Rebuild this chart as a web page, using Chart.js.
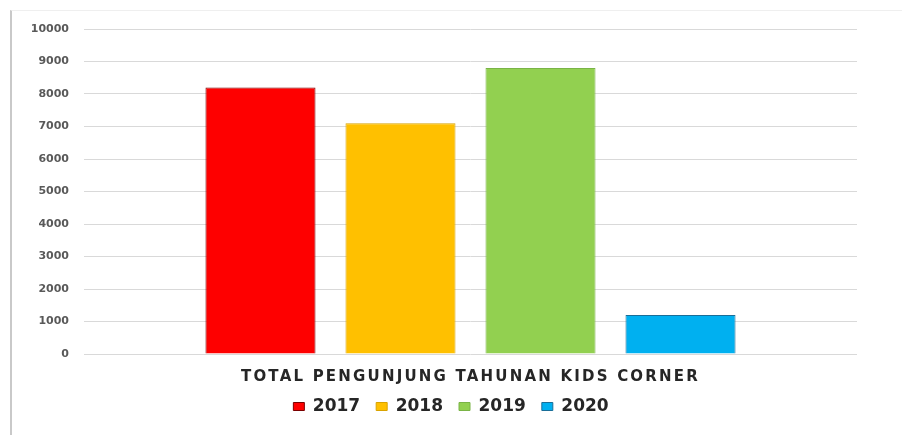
<!DOCTYPE html>
<html>
<head>
<meta charset="utf-8">
<script src="https://cdn.jsdelivr.net/npm/chart.js@4"></script>
<style>
  html, body { margin: 0; padding: 0; background: #ffffff; }
  #wrap { position: relative; width: 902px; height: 435px; }
  #frame { position: absolute; left: 10px; top: 10px; right: 0; bottom: 0;
           border-left: 2px solid #c9c9c9; border-top: 1px solid #efefef; pointer-events: none; }
  canvas { position: absolute; left: 0; top: 0; }
</style>
</head>
<body>
<div id="wrap">
  <canvas id="c" width="902" height="435"></canvas>
  <div id="frame"></div>
</div>
<script>
const categories = ["TOTAL PENGUNJUNG TAHUNAN KIDS CORNER"];
const seriesNames = ["2017", "2018", "2019", "2020"];
const values2017 = [8200];
const values2018 = [7100];
const values2019 = [8800];
const values2020 = [1200];
const yTicks = [0, 1000, 2000, 3000, 4000, 5000, 6000, 7000, 8000, 9000, 10000];

const fills = ["#fe0000", "#ffc000", "#92d050", "#00b0f0"];
const borders = ["#7a0000", "#d9a300", "#7ab446", "#1a6e98"];
const allValues = [values2017, values2018, values2019, values2020];

const xSpacing = {
  id: 'xSpacing',
  afterLayout(chart) {
    const sc = chart.scales.x;
    if (sc && !sc._spacedLabels) {
      const orig = sc.drawLabels.bind(sc);
      sc._computeLabelArea = function () { return undefined; };
      sc.drawLabels = function (area) {
        const ctx = this.ctx;
        const prev = ctx.letterSpacing;
        ctx.letterSpacing = '2.2px';
        orig(area);
        ctx.letterSpacing = prev;
      };
      sc._spacedLabels = true;
    }
  }
};

new Chart(document.getElementById('c'), {
  type: 'bar',
  data: {
    labels: categories,
    datasets: seriesNames.map((n, i) => ({
      label: n,
      data: allValues[i],
      backgroundColor: fills[i],
      borderColor: borders[i],
      borderWidth: 1,
      categoryPercentage: 0.7245,
      barPercentage: 0.786
    }))
  },
  plugins: [xSpacing],
  options: {
    responsive: false,
    animation: false,
    layout: { padding: { left: 0, right: 0, top: 29, bottom: 10 } },
    plugins: {
      tooltip: { enabled: false },
      legend: {
        position: 'bottom',
        labels: {
          boxWidth: 11, boxHeight: 8, padding: 16,
          color: '#262626',
          font: { family: 'DejaVu Sans', weight: 'bold', size: 17 }
        }
      }
    },
    scales: {
      x: {
        afterFit: (s) => { s.height = s.height - 18; },
        grid: { display: false, drawTicks: false },
        border: { display: false },
        ticks: {
          padding: 14,
          color: '#262626',
          font: { family: 'DejaVu Sans', weight: 'bold', size: 15 }
        }
      },
      y: {
        min: 0, max: 10000,
        afterBuildTicks: (s) => { s.ticks = yTicks.map(v => ({ value: v })); },
        afterFit: (s) => { s.width = 84; },
        grid: { color: '#d9d9d9', lineWidth: 1, drawTicks: false },
        border: { display: false },
        ticks: {
          padding: 15,
          color: '#595959',
          callback: (v) => String(v),
          font: { family: 'DejaVu Sans', weight: 'bold', size: 11 }
        }
      },
      y2: {
        type: 'linear',
        position: 'right',
        min: 0, max: 10000,
        afterFit: (s) => { s.width = 45; },
        grid: { display: false, drawTicks: false },
        border: { display: false },
        ticks: { display: false }
      }
    }
  }
});
</script>
</body>
</html>
